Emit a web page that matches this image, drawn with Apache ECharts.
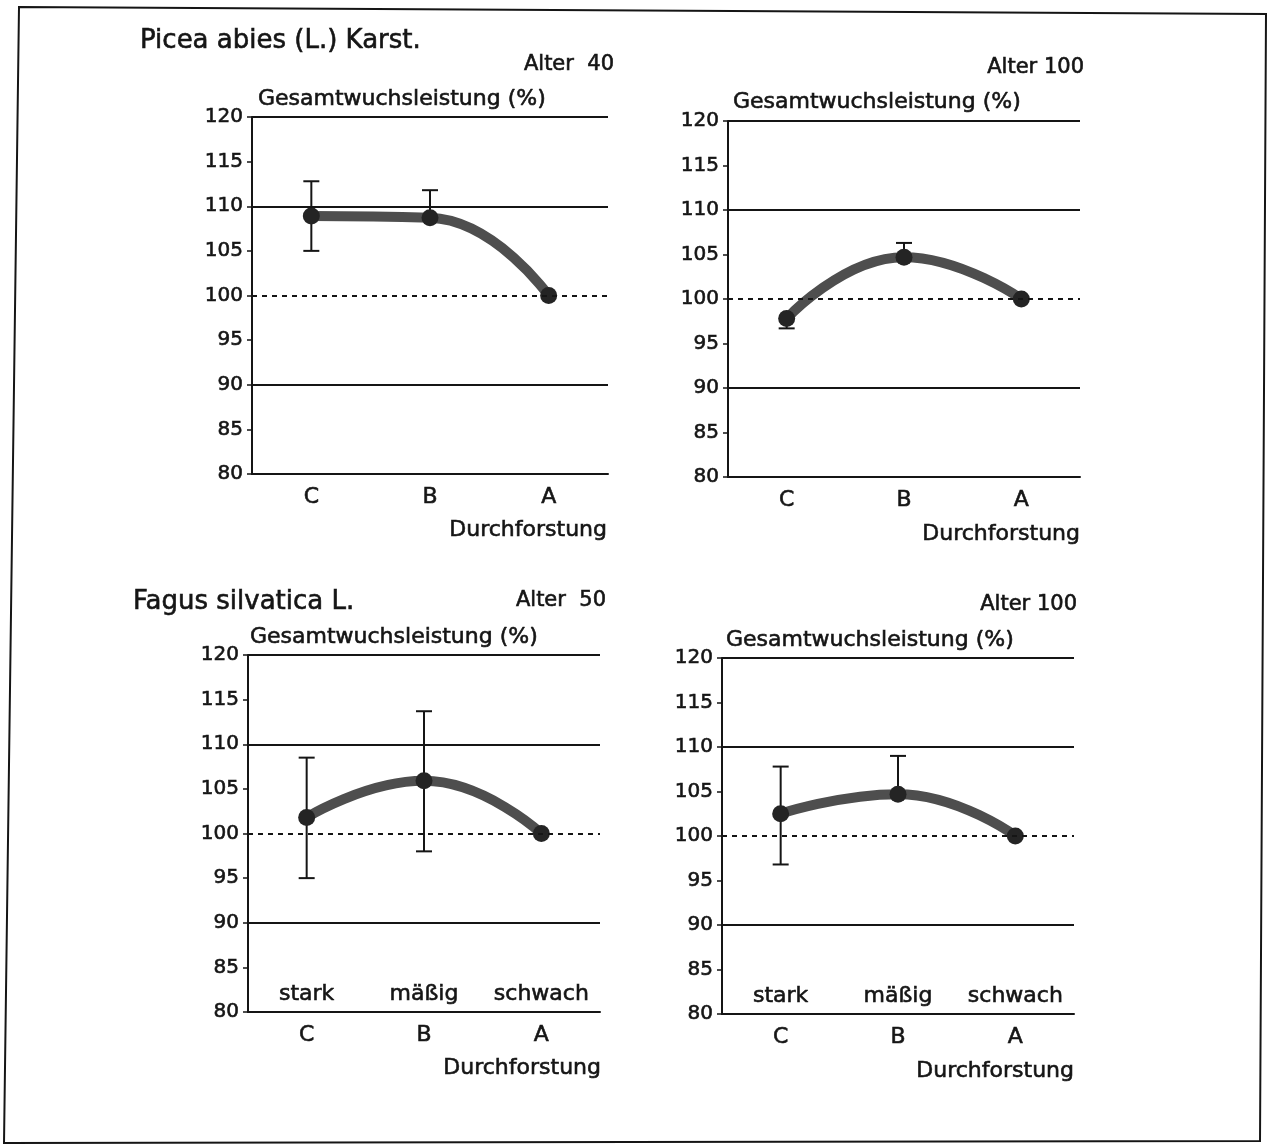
<!DOCTYPE html>
<html lang="de">
<head>
    <meta charset="UTF-8">
    <title>Gesamtwuchsleistung</title>
    <script src="https://cdn.jsdelivr.net/npm/echarts@6/dist/echarts.min.js"></script>
    <style>
        html, body { margin: 0; padding: 0; background: #fff; }
        #chart { width: 1268px; height: 1148px; }
    </style>
</head>
<body>
<div id="chart"></div>
<script>
// Durchforstungsgrade
var cats = ['C', 'B', 'A'];
var grades = ['stark', 'mäßig', 'schwach'];
var yMin = 80, yMax = 120, yStep = 5;

// Mittelwerte und Fehlerbalken (unten / oben), je Panel
var picea40 = [108.9, 108.7, 100];
var picea40Lo = [105.0, 108.7, 100];
var picea40Hi = [112.8, 111.8, 100];

var picea100 = [97.8, 104.7, 100];
var picea100Lo = [96.7, 104.7, 100];
var picea100Hi = [97.8, 106.3, 100];

var fagus50 = [101.8, 105.9, 100];
var fagus50Lo = [95.0, 98.0, 100];
var fagus50Hi = [108.5, 113.7, 100];

var fagus100 = [102.5, 104.7, 100];
var fagus100Lo = [96.8, 104.7, 100];
var fagus100Hi = [107.8, 109.0, 100];

// Referenzlinien
var solidRefs = [90, 110, 120];
var dashedRefs = [100];

var FONT = '"DejaVu Sans", "Liberation Sans", sans-serif';
var INK = '#151515';
var BOLDEN = 0.6;   // etwas kräftigere Schrift wie im Scan

var panels = [
    { mean: picea40, lo: picea40Lo, hi: picea40Hi, grid: { left: 252, top: 117, width: 356, height: 357 } },
    { mean: picea100, lo: picea100Lo, hi: picea100Hi, grid: { left: 728, top: 121, width: 352, height: 356 } },
    { mean: fagus50, lo: fagus50Lo, hi: fagus50Hi, grid: { left: 248, top: 655, width: 352, height: 357 } },
    { mean: fagus100, lo: fagus100Lo, hi: fagus100Hi, grid: { left: 722, top: 658, width: 352, height: 356 } }
];

function errorBar(params, api) {
    var x = api.value(0);
    var v = api.value(3);
    var pLo = api.coord([x, api.value(1)]);
    var pHi = api.coord([x, api.value(2)]);
    var pV = api.coord([x, v]);
    var half = 8;
    var st = { stroke: INK, lineWidth: 2 };
    var children = [{
        type: 'line',
        shape: { x1: pV[0], y1: pLo[1], x2: pV[0], y2: pHi[1] },
        style: st
    }];
    if (api.value(1) < v) {
        children.push({ type: 'line', shape: { x1: pLo[0] - half, y1: pLo[1], x2: pLo[0] + half, y2: pLo[1] }, style: st });
    }
    if (api.value(2) > v) {
        children.push({ type: 'line', shape: { x1: pHi[0] - half, y1: pHi[1], x2: pHi[0] + half, y2: pHi[1] }, style: st });
    }
    return { type: 'group', children: children };
}

function labelStyle(size, extra) {
    var s = {
        color: INK, fontSize: size, fontFamily: FONT,
        textBorderColor: INK, textBorderWidth: BOLDEN
    };
    for (var k in extra) s[k] = extra[k];
    return s;
}

var grids = [], xAxes = [], yAxes = [], series = [];

panels.forEach(function (p, i) {
    grids.push(p.grid);
    xAxes.push({
        type: 'category',
        gridIndex: i,
        data: cats,
        boundaryGap: true,
        axisLine: { lineStyle: { color: INK, width: 2 } },
        axisTick: { alignWithLabel: true, length: 8, lineStyle: { color: INK, width: 2 } },
        axisLabel: labelStyle(22, { margin: 12, interval: 0 }),
        splitLine: { show: false }
    });
    yAxes.push({
        type: 'value',
        gridIndex: i,
        min: yMin,
        max: yMax,
        interval: yStep,
        axisLine: { show: true, lineStyle: { color: INK, width: 2 } },
        axisTick: { show: true, length: 5, lineStyle: { color: INK, width: 1.5 } },
        axisLabel: labelStyle(20, { margin: 9 }),
        splitLine: { show: false }
    });

    var mlData = [];
    solidRefs.forEach(function (v) {
        mlData.push({ yAxis: v, lineStyle: { type: 'solid', color: INK, width: 2 } });
    });
    dashedRefs.forEach(function (v) {
        mlData.push({ yAxis: v, lineStyle: { type: [5, 5], color: INK, width: 2 } });
    });

    series.push({
        type: 'custom',
        xAxisIndex: i,
        yAxisIndex: i,
        renderItem: errorBar,
        z: 2,
        silent: true,
        data: p.mean.map(function (v, k) { return [k, p.lo[k], p.hi[k], v]; }),
        markLine: {
            silent: true,
            symbol: 'none',
            label: { show: false },
            data: mlData
        }
    });
    series.push({
        type: 'line',
        xAxisIndex: i,
        yAxisIndex: i,
        data: p.mean,
        smooth: 0.5,
        z: 3,
        symbol: 'circle',
        symbolSize: 17,
        itemStyle: { color: '#242424' },
        lineStyle: { color: '#4e4e4e', width: 10 },
        silent: true
    });
});

// Gradbezeichnungen innerhalb der unteren Diagramme
[2, 3].forEach(function (g) {
    xAxes.push({
        type: 'category',
        gridIndex: g,
        data: grades,
        position: 'bottom',
        axisLine: { show: false },
        axisTick: { show: false },
        axisLabel: labelStyle(22, { inside: true, margin: 7, interval: 0, hideOverlap: false }),
        splitLine: { show: false }
    });
});

function txt(s, x, y, size, align) {
    return {
        type: 'text',
        x: x,
        y: y,
        style: {
            text: s,
            font: size + 'px ' + FONT,
            fill: INK,
            stroke: INK,
            lineWidth: BOLDEN,
            align: align || 'left',
            verticalAlign: 'middle'
        }
    };
}

var graphics = [
    {
        type: 'polygon',
        shape: { points: [[19, 7], [1266, 14], [1260, 1141], [4, 1143]] },
        style: { fill: 'none', stroke: INK, lineWidth: 2 }
    },
    txt('Picea abies (L.) Karst.', 140, 41, 26),
    txt('Alter  40', 614, 65, 21, 'right'),
    txt('Gesamtwuchsleistung (%)', 258, 99, 22),
    txt('Durchforstung', 607, 530, 22, 'right'),

    txt('Alter 100', 1084, 68, 21, 'right'),
    txt('Gesamtwuchsleistung (%)', 733, 102, 22),
    txt('Durchforstung', 1080, 534, 22, 'right'),

    txt('Fagus silvatica L.', 133, 602, 26),
    txt('Alter  50', 606, 601, 21, 'right'),
    txt('Gesamtwuchsleistung (%)', 250, 637, 22),
    txt('Durchforstung', 601, 1068, 22, 'right'),

    txt('Alter 100', 1077, 605, 21, 'right'),
    txt('Gesamtwuchsleistung (%)', 726, 640, 22),
    txt('Durchforstung', 1074, 1071, 22, 'right')
];

var chart = echarts.init(document.getElementById('chart'), null, { renderer: 'canvas' });
chart.setOption({
    backgroundColor: '#ffffff',
    animation: false,
    textStyle: { fontFamily: FONT },
    grid: grids,
    xAxis: xAxes,
    yAxis: yAxes,
    series: series,
    graphic: graphics
});
</script>
</body>
</html>
